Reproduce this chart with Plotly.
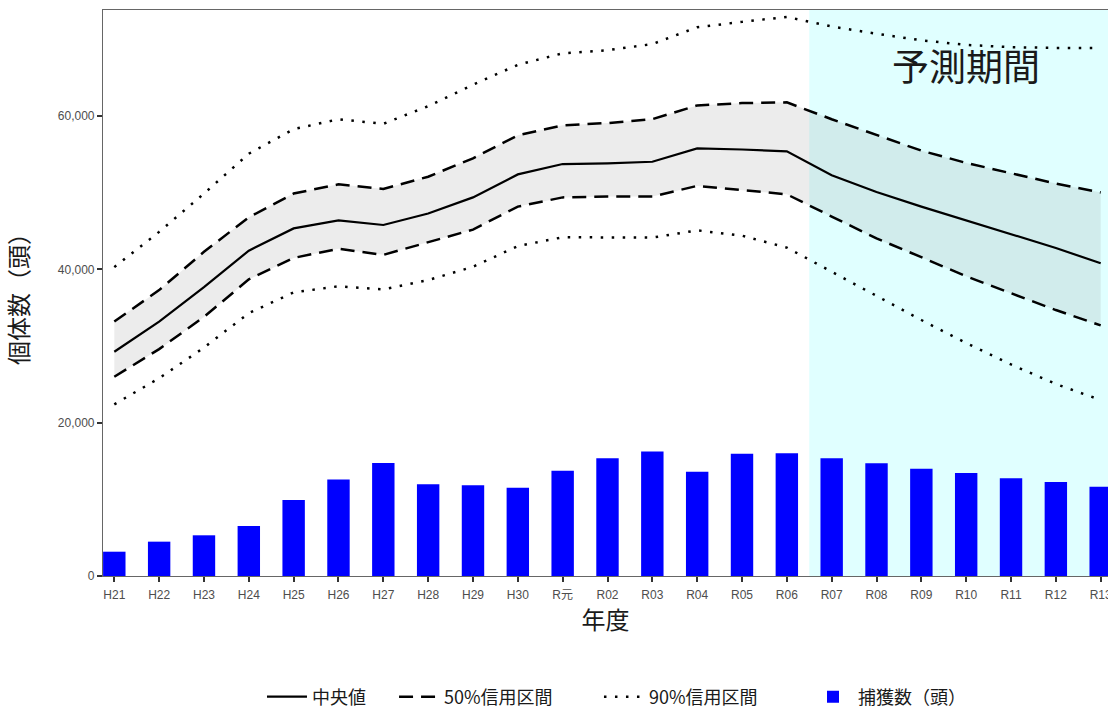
import plotly.graph_objects as go

# ---- data ----
years = ["H21", "H22", "H23", "H24", "H25", "H26", "H27", "H28", "H29", "H30",
         "R元", "R02", "R03", "R04", "R05", "R06", "R07", "R08", "R09", "R10",
         "R11", "R12", "R13"]

median = [29260, 33200, 37700, 42450, 45350, 46400, 45800, 47300, 49400, 52400,
          53750, 53850, 54050, 55800, 55650, 55400, 52300, 50100, 48200, 46400,
          44600, 42800, 40800]

upper50 = [33200, 37300, 42300, 46800, 49900, 51100, 50500, 52100, 54500, 57500,
           58800, 59100, 59600, 61400, 61700, 61800, 59600, 57500, 55500, 53900,
           52500, 51200, 50050]

lower50 = [26000, 29600, 33800, 38700, 41500, 42700, 41900, 43500, 45200, 48200,
           49400, 49500, 49500, 50900, 50400, 49800, 46900, 44050, 41600, 39100,
           36900, 34700, 32700]

upper90 = [40300, 44900, 49900, 55100, 58300, 59600, 59000, 61300, 64100, 66700,
           68200, 68600, 69400, 71600, 72300, 72950, 71700, 70750, 69900, 69300,
           69000, 68900, 68900]

lower90 = [22400, 25800, 29800, 34300, 37000, 37800, 37400, 38600, 40350, 43050,
           44200, 44200, 44150, 45100, 44400, 42850, 39700, 36500, 33400, 30400,
           27600, 25050, 22960]

captures = [3170, 4480, 5310, 6520, 9920, 12600, 14740, 11960, 11830, 11520,
            13740, 15350, 16260, 13610, 15960, 16000, 15350, 14700, 14000, 13440,
            12740, 12260, 11650]

forecast_start = "R07"
forecast_label = "予測期間"
forecast_label_year = "R10"
forecast_label_value = 66650

y_ticks = [0, 20000, 40000, 60000]
y_max = 73850

# ---- styling ----
FONT = "Liberation Sans, Noto Sans CJK JP, sans-serif"
CJK = "Noto Sans CJK JP, sans-serif"
GREY_TXT = "#4d4d4d"
DARK_TXT = "#1a1a1a"
DASH = "14px,8px"
DOT = "2.5px,8.5px"

fig = go.Figure()

# captured numbers (bars)
fig.add_trace(go.Bar(
    x=years, y=captures, name="捕獲数（頭）", width=0.5,
    marker=dict(color="#0000ff", line=dict(width=0)),
    legend="legend2",
))

# 50% credible ribbon
fig.add_trace(go.Scatter(
    x=years, y=upper50, mode="lines", line=dict(width=0, color="rgba(0,0,0,0)"),
    showlegend=False, hoverinfo="skip",
))
fig.add_trace(go.Scatter(
    x=years, y=lower50, mode="lines", line=dict(width=0, color="rgba(0,0,0,0)"),
    fill="tonexty", fillcolor="rgba(128,128,128,0.15)",
    showlegend=False, hoverinfo="skip",
))

# 90% interval (dotted)
fig.add_trace(go.Scatter(
    x=years, y=upper90, mode="lines", name="90%信用区間", legendgroup="ci90",
    line=dict(color="black", width=2.5, dash=DOT), legend="legend4",
))
fig.add_trace(go.Scatter(
    x=years, y=lower90, mode="lines", name="90%信用区間", legendgroup="ci90",
    line=dict(color="black", width=2.5, dash=DOT), showlegend=False, legend="legend4",
))

# 50% interval (dashed)
fig.add_trace(go.Scatter(
    x=years, y=upper50, mode="lines", name="50%信用区間", legendgroup="ci50",
    line=dict(color="black", width=2.5, dash=DASH), legend="legend3",
))
fig.add_trace(go.Scatter(
    x=years, y=lower50, mode="lines", name="50%信用区間", legendgroup="ci50",
    line=dict(color="black", width=2.5, dash=DASH), showlegend=False, legend="legend3",
))

# median (solid)
fig.add_trace(go.Scatter(
    x=years, y=median, mode="lines", name="中央値",
    line=dict(color="black", width=2.2), legend="legend",
))

x_lo = -0.252
x_hi = len(years) - 1 + 0.163
fc_x0 = years.index(forecast_start) - 0.5

fig.add_shape(type="rect", xref="x", yref="paper", x0=fc_x0, x1=x_hi + 1,
              y0=0, y1=1, fillcolor="#e0ffff", line=dict(width=0), layer="below")

fig.add_annotation(x=forecast_label_year, y=forecast_label_value, xref="x", yref="y",
                   text=forecast_label, showarrow=False,
                   font=dict(family=CJK, size=37, color=DARK_TXT),
                   xanchor="center", yanchor="middle")

LEG_Y = -0.2138
leg_common = dict(orientation="h", y=LEG_Y, yanchor="middle", xanchor="left",
                  font=dict(family=CJK, size=18, color=DARK_TXT),
                  bgcolor="rgba(0,0,0,0)", itemwidth=40)

fig.update_layout(
    width=1108, height=712,
    margin=dict(l=103, r=0, t=10, b=136, autoexpand=False),
    paper_bgcolor="white", plot_bgcolor="white",
    font=dict(family=FONT, color=GREY_TXT),
    legend=dict(x=0.1582, **leg_common),
    legend3=dict(x=0.2896, **leg_common),
    legend4=dict(x=0.4935, **leg_common),
    legend2=dict(x=0.7015, **leg_common),
)

fig.update_xaxes(
    type="category", categoryorder="array", categoryarray=years,
    range=[x_lo, x_hi], automargin=False,
    showline=True, linecolor="#666666", linewidth=1.2, mirror=True,
    ticks="outside", ticklen=5, tickwidth=1.5, tickcolor="#333333",
    tickfont=dict(family=FONT, size=12, color=GREY_TXT),
    ticklabelstandoff=2,
    showgrid=False, zeroline=False,
    title=dict(text="年度", font=dict(family=CJK, size=24, color=DARK_TXT), standoff=0),
)
fig.update_yaxes(
    range=[0, y_max], tickvals=y_ticks, tickformat=",",
    showline=True, linecolor="#666666", linewidth=1.2, mirror=False,
    ticks="outside", ticklen=5, tickwidth=1.5, tickcolor="#333333",
    tickfont=dict(family=FONT, size=12, color=GREY_TXT),
    showgrid=False, zeroline=False,
    title=dict(text="個体数（頭）", font=dict(family=CJK, size=24, color=DARK_TXT), standoff=22),
)

fig.write_html("out.html", config={"displayModeBar": False},
               post_script="document.body.style.margin='0';")
